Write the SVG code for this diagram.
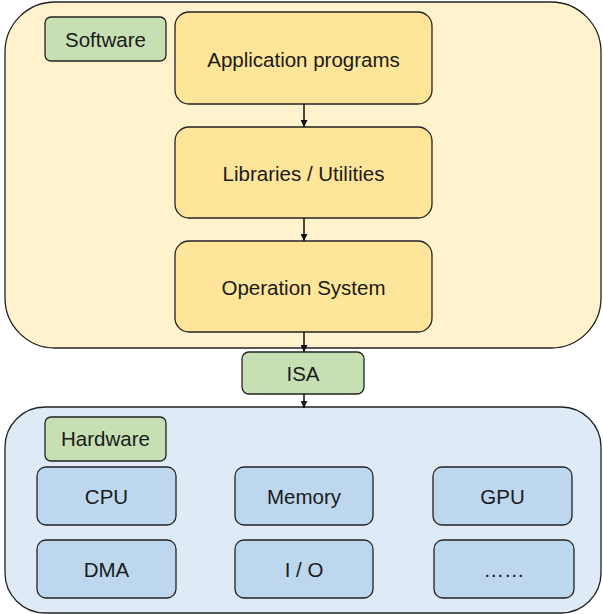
<svg xmlns="http://www.w3.org/2000/svg" width="603" height="614" viewBox="0 0 603 614">
<style>
.t{font-family:"Liberation Sans",Arial,sans-serif;font-size:20.5px;fill:#1a1a1a;text-anchor:middle;dominant-baseline:central}
.c{stroke:#222;stroke-width:1.3}
.y{fill:#ffe599;stroke:#222;stroke-width:1.3}
.g{fill:#c6e0b4;stroke:#222;stroke-width:1.3}
.b{fill:#bdd7ee;stroke:#222;stroke-width:1.3}
.e{stroke:#111;stroke-width:1.5;fill:none;marker-end:url(#a)}
</style>
<defs>
<marker id="a" viewBox="0 0 10 10" refX="10" refY="5" markerWidth="7" markerHeight="7" orient="auto" markerUnits="userSpaceOnUse"><path d="M0,0L10,5L0,10z" fill="#111"/></marker>
</defs>
<g id="software">
<rect class="c" x="5" y="2" width="596" height="346" rx="50" fill="#fff2cc"/>
</g>
<g id="hardware">
<rect class="c" x="5" y="407" width="596" height="206" rx="40" fill="#deeaf6"/>
</g>
<g id="software-label"><rect class="g" x="45" y="17" width="121" height="44" rx="6"/><text class="t" x="105.5" y="39">Software</text></g>
<g id="app"><rect class="y" x="175" y="12" width="257" height="92" rx="14"/><text class="t" x="303.5" y="59">Application programs</text></g>
<g id="lib"><rect class="y" x="175" y="127" width="257" height="91" rx="14"/><text class="t" x="303.5" y="173">Libraries / Utilities</text></g>
<g id="os"><rect class="y" x="175" y="241" width="257" height="91" rx="14"/><text class="t" x="303.5" y="287">Operation System</text></g>
<g id="isa"><rect class="g" x="242" y="352" width="122" height="42" rx="7"/><text class="t" x="303" y="373">ISA</text></g>
<g id="hardware-label"><rect class="g" x="45" y="417" width="121" height="44" rx="6"/><text class="t" x="105.5" y="438.5">Hardware</text></g>
<g id="cpu"><rect class="b" x="37" y="467" width="139" height="58" rx="9"/><text class="t" x="106.5" y="496">CPU</text></g>
<g id="memory"><rect class="b" x="235" y="467" width="138" height="58" rx="9"/><text class="t" x="304" y="496">Memory</text></g>
<g id="gpu"><rect class="b" x="433" y="467" width="139" height="58" rx="9"/><text class="t" x="502.5" y="496">GPU</text></g>
<g id="dma"><rect class="b" x="37" y="540" width="139" height="58" rx="9"/><text class="t" x="106.5" y="569">DMA</text></g>
<g id="io"><rect class="b" x="235" y="540" width="138" height="58" rx="9"/><text class="t" x="304" y="569">I / O</text></g>
<g id="more"><rect class="b" x="434" y="540" width="140" height="58" rx="9"/><text class="t" x="504" y="569">……</text></g>
<g id="connectors">
<path class="e" d="M304,104V127"/>
<path class="e" d="M304,218V241"/>
<path class="e" d="M304,332V352"/>
<path class="e" d="M304,394V408"/>
</g>
</svg>
